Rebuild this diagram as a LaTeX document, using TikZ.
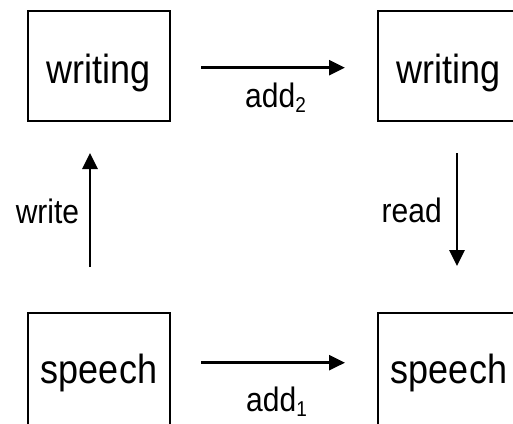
\documentclass[tikz,border=0pt]{standalone}
\usepackage{fontspec}
\setmainfont{Liberation Sans}
\usepackage{graphicx}
\usetikzlibrary{arrows.meta}
% text is set slightly taller than wide
\newcommand\tallt[1]{\scalebox{1}[1.13]{#1}}
\newcommand\subidx[1]{\raisebox{-4.5pt}{\fontsize{19}{19}\selectfont #1}}

\begin{document}
\begin{tikzpicture}[x=1pt,y=-1pt,
  box/.style={draw, line width=1.8pt, minimum width=142.5pt,
              inner sep=0pt, font=\fontsize{36}{40}\selectfont, text depth=0pt},
  toprow/.style={minimum height=110.5pt, text height=34pt},
  botrow/.style={minimum height=120pt, text height=20pt},
  lbl/.style={inner sep=0pt, font=\fontsize{30}{34}\selectfont},
  flow/.style={line width=2.8pt, -{Triangle[length=16pt,width=15pt]}}]
  \useasboundingbox (0,0) rectangle (513,423);
  \clip (0,0) rectangle (513,423);

  % the four states
  \node[box,toprow] (w1) at (99,66)  {\tallt{writing}};
  \node[box,toprow] (w2) at (449,66) {\tallt{writing}};
  \node[box,botrow] (s1) at (99,373)  {\tallt{speech}};
  \node[box,botrow] (s2) at (449,373) {\tallt{speech}};

  % arrow end points
  \coordinate (a2s) at (201,67.7);  \coordinate (a2e) at (345,67.7);
  \coordinate (a1s) at (201,362.7); \coordinate (a1e) at (345,362.7);
  \coordinate (ws)  at (90,267);    \coordinate (we)  at (90,153);
  \coordinate (rs)  at (457,153);   \coordinate (re)  at (457,266);

  \draw[flow] (a2s) -- (a2e);
  \draw[flow] (a1s) -- (a1e);
  \draw[flow] (ws) -- (we);
  \draw[flow] (rs) -- (re);

  % arrow labels
  \node[lbl,anchor=base west] (l2) at (245,107)   {\tallt{add\subidx{2}}};
  \node[lbl,anchor=base west] (l1) at (246,411.7) {\tallt{add\subidx{1}}};
  \node[lbl,anchor=base] (lw) at (47.5,223) {\tallt{write}};
  \node[lbl,anchor=base] (lr) at (411.7,222) {\tallt{read}};
\end{tikzpicture}
\end{document}
